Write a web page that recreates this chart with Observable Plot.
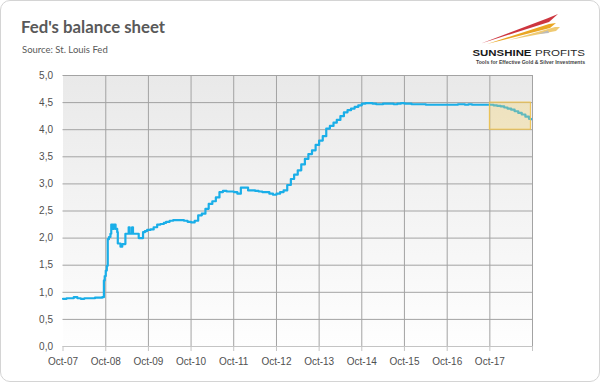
<!DOCTYPE html>
<html>
<head>
<meta charset="utf-8">
<script src="https://cdn.jsdelivr.net/npm/d3@7"></script>
<script src="https://cdn.jsdelivr.net/npm/@observablehq/plot@0.6"></script>
<style>
  body { margin: 0; background: #fff; }
  #card { position: relative; width: 600px; height: 382px; overflow: hidden; background: #fff; }
  #card svg.plot { position: absolute; left: 0; top: 0; }
  #border { position: absolute; left: 0; top: 0; width: 600px; height: 382px; box-sizing: border-box;
            border: 1px solid #d4d4d4; border-radius: 10px; pointer-events: none; }
  #title { position: absolute; left: 21px; top: 17px; font: 700 16.8px/20px Lato, sans-serif; color: #595959; white-space: nowrap; }
  #subtitle { position: absolute; left: 22px; top: 44px; font: 400 9.5px/12px Lato, sans-serif; color: #595959; white-space: nowrap; }
  #logo { position: absolute; left: 0; top: 0; }
</style>
</head>
<body>
<div id="card">
  <div id="title">Fed's balance sheet</div>
  <div id="subtitle">Source: St. Louis Fed</div>
</div>
<script>
// Fed total assets, trillions USD
const dates = [
  "2007-10-01","2007-11-01","2007-12-01",
  "2008-01-01","2008-02-01","2008-03-01","2008-04-01","2008-05-01","2008-06-01","2008-07-01","2008-08-01","2008-09-01",
  "2008-09-15","2008-09-22","2008-10-01","2008-10-10","2008-10-18","2008-10-28","2008-11-10","2008-11-17","2008-12-01","2008-12-09","2008-12-24",
  "2009-01-07","2009-01-12","2009-02-04","2009-02-19","2009-03-18","2009-04-15","2009-04-24","2009-05-14","2009-05-22","2009-06-26","2009-07-10","2009-08-08","2009-08-16","2009-09-01","2009-09-20","2009-10-19","2009-11-15","2009-12-15",
  "2010-01-12","2010-02-10","2010-03-01","2010-04-01","2010-05-01","2010-06-01","2010-07-01","2010-08-01","2010-09-01","2010-10-01","2010-11-01","2010-12-01",
  "2011-01-01","2011-02-01","2011-03-01","2011-04-01","2011-05-01","2011-06-01","2011-07-01","2011-08-01","2011-09-01","2011-10-01","2011-11-01","2011-12-01",
  "2012-01-01","2012-02-01","2012-03-01","2012-04-01","2012-05-01","2012-06-01","2012-07-01","2012-08-01","2012-09-01","2012-10-01","2012-11-01","2012-12-01",
  "2013-01-01","2013-02-01","2013-03-01","2013-04-01","2013-05-01","2013-06-01","2013-07-01","2013-08-01","2013-09-01","2013-10-01","2013-11-01","2013-12-01",
  "2014-01-01","2014-02-01","2014-03-01","2014-04-01","2014-05-01","2014-06-01","2014-07-01","2014-08-01","2014-09-01","2014-10-01","2014-11-01","2014-12-01",
  "2015-01-01","2015-02-01","2015-03-01","2015-04-01","2015-05-01","2015-06-01","2015-07-01","2015-08-01","2015-09-01","2015-10-01","2015-11-01","2015-12-01",
  "2016-01-01","2016-02-01","2016-03-01","2016-04-01","2016-05-01","2016-06-01","2016-07-01","2016-08-01","2016-09-01","2016-10-01","2016-11-01","2016-12-01",
  "2017-01-01","2017-02-01","2017-03-01","2017-04-01","2017-05-01","2017-06-01","2017-07-01","2017-08-01","2017-09-01","2017-10-01","2017-11-01","2017-12-01",
  "2018-01-01","2018-02-01","2018-03-01","2018-04-01","2018-05-01","2018-06-01","2018-07-01","2018-08-01","2018-09-01","2018-09-17"
];
const assets = [
  0.88,0.89,0.89,
  0.91,0.89,0.88,0.89,0.89,0.89,0.90,0.90,0.91,
  1.22,1.30,1.40,1.49,1.98,2.02,2.08,2.25,2.17,2.25,2.17,
  2.11,1.90,1.84,1.89,2.08,2.20,2.08,2.20,2.08,2.08,2.00,2.00,2.11,2.13,2.15,2.16,2.20,2.25,
  2.26,2.28,2.30,2.32,2.33,2.33,2.33,2.32,2.30,2.29,2.32,2.42,
  2.45,2.54,2.63,2.68,2.75,2.85,2.87,2.86,2.86,2.85,2.82,2.93,
  2.93,2.88,2.88,2.87,2.86,2.85,2.85,2.82,2.80,2.82,2.85,2.88,
  2.98,3.09,3.17,3.25,3.36,3.46,3.55,3.62,3.72,3.80,3.88,4.02,
  4.07,4.13,4.18,4.25,4.32,4.36,4.39,4.42,4.45,4.48,4.49,4.49,
  4.48,4.47,4.47,4.48,4.48,4.48,4.47,4.48,4.49,4.48,4.48,4.47,
  4.47,4.47,4.47,4.46,4.46,4.46,4.46,4.46,4.46,4.46,4.46,4.46,
  4.47,4.47,4.46,4.47,4.46,4.46,4.46,4.46,4.46,4.46,4.45,4.44,
  4.43,4.41,4.39,4.37,4.34,4.31,4.28,4.24,4.20,4.19
];
const yTicks = [0, 0.5, 1, 1.5, 2, 2.5, 3, 3.5, 4, 4.5, 5];
const xTickDates = ["2007-10-01","2008-10-01","2009-10-01","2010-10-01","2011-10-01","2012-10-01",
                    "2013-10-01","2014-10-01","2015-10-01","2016-10-01","2017-10-01","2018-10-01"];
const xTickLabels = ["Oct-07","Oct-08","Oct-09","Oct-10","Oct-11","Oct-12",
                     "Oct-13","Oct-14","Oct-15","Oct-16","Oct-17",""];
const highlightStart = "2017-10-01";
const highlightRange = [4.0, 4.5];

const parse = d3.utcParse("%Y-%m-%d");
const data = dates.map((d, i) => ({date: parse(d), value: assets[i]}));
const ticks = xTickDates.map(parse);
const labelOf = new Map(ticks.map((t, i) => [+t, xTickLabels[i]]));
const highlight = [{x1: parse(highlightStart), x2: data[data.length - 1].date, y1: highlightRange[0], y2: highlightRange[1]}];

const chart = Plot.plot({
  width: 600,
  height: 382,
  marginLeft: 62.5,
  marginRight: 68,
  marginTop: 75,
  marginBottom: 36,
  x: {type: "utc", domain: [ticks[0], ticks[ticks.length - 1]]},
  y: {domain: [0, 5]},
  style: {fontFamily: "'Liberation Sans', sans-serif", fontSize: "10px", color: "#505050", background: "transparent"},
  marks: [
    Plot.frame({fill: "url(#plotBg)", stroke: null}),
    Plot.ruleY(yTicks.filter(d => d > 0), {stroke: "#a3a3a3", strokeWidth: 1}),
    Plot.ruleX(ticks.slice(1), {stroke: "#a3a3a3", strokeWidth: 1}),
    Plot.ruleY([0], {stroke: "#c4c4c4", strokeWidth: 1}),
    Plot.axisX({ticks: ticks, tickSize: 5, tickPadding: 6, stroke: "#c4c4c4",
                tickFormat: d => labelOf.get(+d) ?? "", label: null}),
    Plot.axisY({ticks: yTicks, tickSize: 0, tickPadding: 10,
                tickFormat: d => d.toFixed(1).replace(".", ","), label: null}),
    Plot.line(data, {x: "date", y: "value", curve: "step-after", stroke: "#1aaee8", strokeWidth: 2.2}),
    Plot.rect(highlight, {x1: "x1", x2: "x2", y1: "y1", y2: "y2", fill: "#f7cf64", fillOpacity: 0.32, stroke: "#f0c24a", strokeWidth: 1})
  ]
});
chart.classList.add("plot");
const defs = d3.select(chart).insert("defs", ":first-child");
const grad = defs.append("linearGradient").attr("id", "plotBg").attr("x1", 0).attr("y1", 0).attr("x2", 0).attr("y2", 1);
grad.append("stop").attr("offset", "0%").attr("stop-color", "#e9e9e9");
grad.append("stop").attr("offset", "100%").attr("stop-color", "#fefefe");

const card = document.getElementById("card");
card.insertBefore(chart, card.firstChild);

// Logo (decorative)
const logo = d3.select(card).append("svg").attr("id", "logo").attr("width", 600).attr("height", 80);
logo.append("polygon").attr("points", "481,43.5 547,18.5 558,14 549,22").attr("fill", "#c8202a").attr("opacity", 0.9);
logo.append("polygon").attr("points", "487,44 549,24 556,23 550,28").attr("fill", "#e9a623");
logo.append("polygon").attr("points", "509,40 555,27 560,27 556,31").attr("fill", "#ecc15a").attr("opacity", 0.85);
logo.append("polygon").attr("points", "538,34 548,30.5 549,33").attr("fill", "#bbbbbb");
logo.append("text").attr("x", 472.5).attr("y", 56).attr("textLength", 59).attr("lengthAdjust", "spacingAndGlyphs")
  .attr("font-family", "'Liberation Sans', sans-serif").attr("font-weight", 700).attr("font-size", 9.8)
  .attr("fill", "#1a1a1a").text("SUNSHINE");
logo.append("text").attr("x", 535).attr("y", 56).attr("textLength", 50).attr("lengthAdjust", "spacingAndGlyphs")
  .attr("font-family", "'Liberation Sans', sans-serif").attr("font-weight", 400).attr("font-size", 9.8)
  .attr("fill", "#2a2a2a").text("PROFITS");
logo.append("text").attr("x", 476).attr("y", 63.5).attr("textLength", 109).attr("lengthAdjust", "spacingAndGlyphs")
  .attr("font-family", "'Liberation Sans', sans-serif").attr("font-weight", 700).attr("font-size", 4.6)
  .attr("fill", "#444").text("Tools for Effective Gold & Silver Investments");

const border = document.createElement("div");
border.id = "border";
card.appendChild(border);
</script>
</body>
</html>
